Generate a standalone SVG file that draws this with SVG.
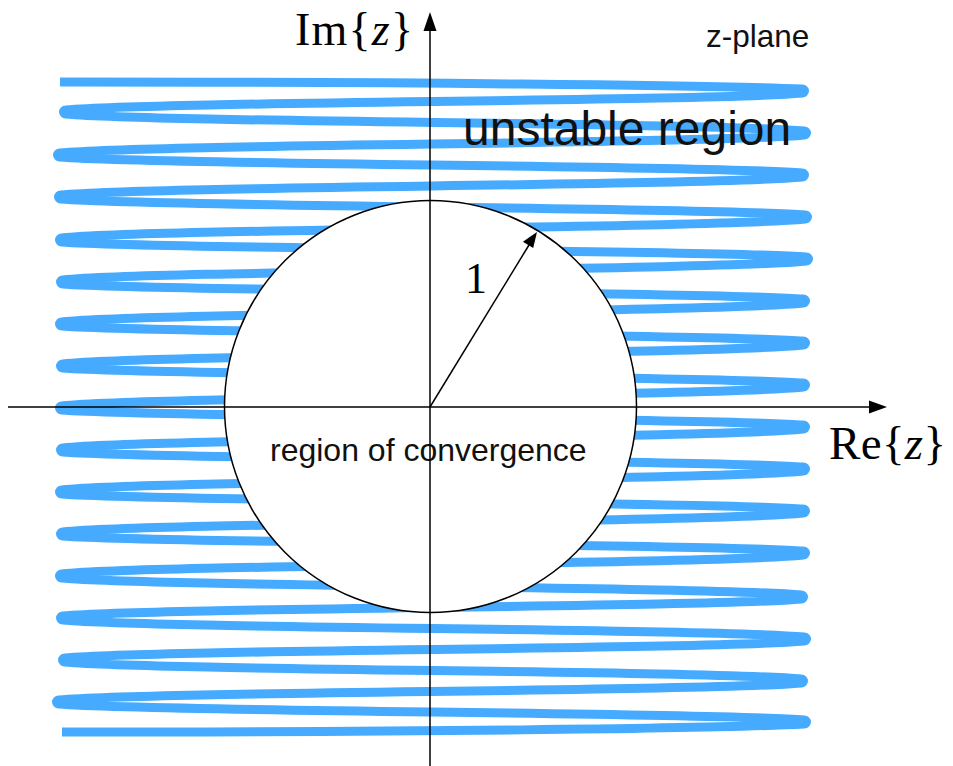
<svg xmlns="http://www.w3.org/2000/svg" width="953" height="766" viewBox="0 0 953 766">
<style>
.scribble{fill:none;stroke:#46abff;stroke-width:9;stroke-linejoin:round;stroke-linecap:butt}
.axis{stroke:#000;stroke-width:1.5;fill:none}
.head{fill:#000}
.serif{font-family:"Liberation Serif","Times New Roman",serif;fill:#000}
.sans{font-family:"Liberation Sans",Arial,sans-serif;fill:#111}
</style>
<rect width="953" height="766" fill="#fff"/>
<g id="unstable-hatch">
<path class="scribble" d="M60,82 C400,82 702.5,85 802.5,89 A2,2 0 0 1 802.5,93
C702.5,101.5 165.5,101.5 65.5,110 A2,2 0 0 0 65.5,114
C165.5,122.5 704.5,122.5 804.5,131 A2,2 0 0 1 804.5,135
C704.5,144 159.5,144 59.5,153 A2,2 0 0 0 59.5,157
C159.5,165 702.5,165 802.5,173 A2,2 0 0 1 802.5,177
C702.5,186 160.5,186 60.5,195 A2,2 0 0 0 60.5,199
C160.5,207 705.5,207 805.5,215 A2,2 0 0 1 805.5,219
C705.5,228.5 161.5,228.5 61.5,238 A2,2 0 0 0 61.5,242
C161.5,249.5 706.5,249.5 806.5,257 A2,2 0 0 1 806.5,261
C706.5,270.5 162.5,270.5 62.5,280 A2,2 0 0 0 62.5,284
C162.5,291.5 703.5,291.5 803.5,299 A2,2 0 0 1 803.5,303
C703.5,312.5 161.5,312.5 61.5,322 A2,2 0 0 0 61.5,326
C161.5,333.5 703.5,333.5 803.5,341 A2,2 0 0 1 803.5,345
C703.5,354.5 162.5,354.5 62.5,364 A2,2 0 0 0 62.5,368
C162.5,375.5 703.5,375.5 803.5,383 A2,2 0 0 1 803.5,387
C703.5,396.5 161.5,396.5 61.5,406 A2,2 0 0 0 61.5,410
C161.5,417.5 703.5,417.5 803.5,425 A2,2 0 0 1 803.5,429
C703.5,438.5 162.5,438.5 62.5,448 A2,2 0 0 0 62.5,452
C162.5,459.5 703.5,459.5 803.5,467 A2,2 0 0 1 803.5,471
C703.5,480.5 161.5,480.5 61.5,490 A2,2 0 0 0 61.5,494
C161.5,501.5 703.5,501.5 803.5,509 A2,2 0 0 1 803.5,513
C703.5,522.5 162.5,522.5 62.5,532 A2,2 0 0 0 62.5,536
C162.5,543.5 703.5,543.5 803.5,551 A2,2 0 0 1 803.5,555
C703.5,564.5 161.5,564.5 61.5,574 A2,2 0 0 0 61.5,578
C161.5,586.5 701.5,586.5 801.5,595 A2,2 0 0 1 801.5,599
C701.5,607.5 162.5,607.5 62.5,616 A2,2 0 0 0 62.5,620
C162.5,628.5 704.5,628.5 804.5,637 A2,2 0 0 1 804.5,641
C704.5,649.5 164.5,649.5 64.5,658 A2,2 0 0 0 64.5,662
C164.5,670.5 701.5,670.5 801.5,679 A2,2 0 0 1 801.5,683
C701.5,691.5 158.5,691.5 58.5,700 A2,2 0 0 0 58.5,704
C158.5,712 704.5,712 804.5,720 A2,2 0 0 1 804.5,724
C704.5,729 400,732 62,732"/>
</g>
<g id="unit-circle">
<circle cx="430.5" cy="406.5" r="206" fill="#fff" stroke="#000" stroke-width="1.5"/>
</g>
<g id="labels">
<text class="sans" x="463" y="145" font-size="48">unstable region</text>
<text class="sans" x="270" y="461" font-size="32">region of convergence</text>
<text class="sans" x="706" y="47" font-size="31.5">z-plane</text>
<text class="serif" x="295" y="45" font-size="46" textLength="118" lengthAdjust="spacing">Im{<tspan font-style="italic">z</tspan>}</text>
<text class="serif" x="829" y="459" font-size="47" textLength="117" lengthAdjust="spacing">Re{<tspan font-style="italic">z</tspan>}</text>
<text class="serif" x="465" y="293" font-size="44">1</text>
</g>
<g id="connectors">
<line class="axis" x1="8" y1="407" x2="872" y2="407"/>
<polygon class="head" points="887,407 869,400.5 869,413.5"/>
<line class="axis" x1="430" y1="766" x2="430" y2="28"/>
<polygon class="head" points="430,12 423.5,31 436.5,31"/>
<line class="axis" x1="430" y1="407" x2="529" y2="245"/>
<polygon class="head" points="537,232 522.9,241.8 533.2,248.1"/>
</g>
</svg>
